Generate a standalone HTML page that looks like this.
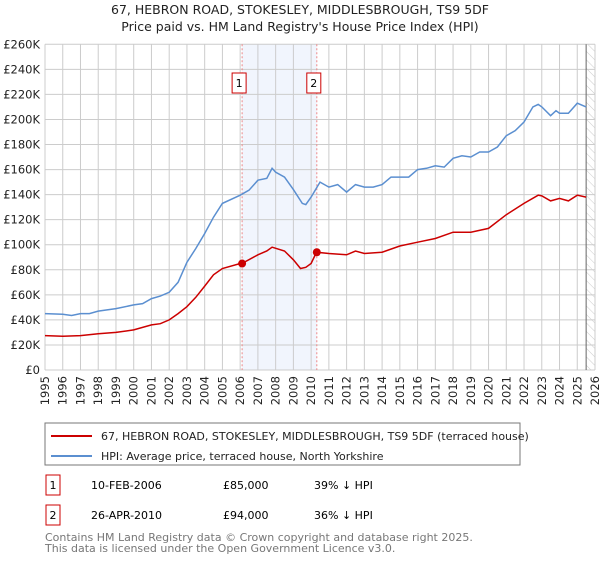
<!DOCTYPE html>
<html><head><meta charset="utf-8"><style>
body{margin:0;background:#fff;font-family:"DejaVu Sans","Liberation Sans",sans-serif;}
svg text{font-family:"DejaVu Sans","Liberation Sans",sans-serif;}
</style></head><body>
<svg id="c" width="600" height="560" xmlns="http://www.w3.org/2000/svg">
<defs><pattern id="hatch" width="6" height="6" patternUnits="userSpaceOnUse" patternTransform="rotate(-45)"><line x1="0" y1="0" x2="0" y2="6" stroke="#ccc" stroke-width="1"/></pattern></defs>
<text x="300" y="14" text-anchor="middle" font-size="12.5" fill="#222">67, HEBRON ROAD, STOKESLEY, MIDDLESBROUGH, TS9 5DF</text>
<text x="300" y="31" text-anchor="middle" font-size="12.5" fill="#222">Price paid vs. HM Land Registry's House Price Index (HPI)</text>
<g id="grid"></g><g id="series"></g>
<rect x="45" y="423" width="475" height="42" fill="#fff" stroke="#777"/>
<line x1="51" y1="436" x2="92" y2="436" stroke="#cc0000" stroke-width="2"/>
<text x="101" y="440" font-size="11" fill="#222">67, HEBRON ROAD, STOKESLEY, MIDDLESBROUGH, TS9 5DF (terraced house)</text>
<line x1="51" y1="456" x2="92" y2="456" stroke="#5b8fd0" stroke-width="2"/>
<text x="101" y="460" font-size="11" fill="#222">HPI: Average price, terraced house, North Yorkshire</text>
<g>
<rect x="46" y="475" width="14" height="20" fill="#fff" stroke="#cc0000"/><text x="53" y="489" text-anchor="middle" font-size="11">1</text>
<text x="91" y="489" font-size="11">10-FEB-2006</text><text x="223" y="489" font-size="11">£85,000</text><text x="314" y="489" font-size="11">39% ↓ HPI</text></g>
<g>
<rect x="46" y="505" width="14" height="20" fill="#fff" stroke="#cc0000"/><text x="53" y="519" text-anchor="middle" font-size="11">2</text>
<text x="91" y="519" font-size="11">26-APR-2010</text><text x="223" y="519" font-size="11">£94,000</text><text x="314" y="519" font-size="11">36% ↓ HPI</text></g>
<text x="45" y="541" font-size="11" fill="#777">Contains HM Land Registry data © Crown copyright and database right 2025.</text>
<text x="45" y="552" font-size="11" fill="#777">This data is licensed under the Open Government Licence v3.0.</text>
</svg>
<script>
const yTicks=[0,20000,40000,60000,80000,100000,120000,140000,160000,180000,200000,220000,240000,260000];
const yTickLabels=["£0","£20K","£40K","£60K","£80K","£100K","£120K","£140K","£160K","£180K","£200K","£220K","£240K","£260K"];
const years=[1995,1996,1997,1998,1999,2000,2001,2002,2003,2004,2005,2006,2007,2008,2009,2010,2011,2012,2013,2014,2015,2016,2017,2018,2019,2020,2021,2022,2023,2024,2025,2026];
const hpiT=[1995,1996,1996.5,1997,1997.5,1998,1999,2000,2000.5,2001,2001.5,2002,2002.5,2003,2003.5,2004,2004.5,2005,2006,2006.5,2007,2007.5,2007.8,2008,2008.5,2009,2009.5,2009.7,2010,2010.5,2011,2011.5,2012,2012.5,2013,2013.5,2014,2014.5,2015,2015.5,2016,2016.5,2017,2017.5,2018,2018.5,2019,2019.5,2020,2020.5,2021,2021.5,2022,2022.5,2022.8,2023,2023.5,2023.8,2024,2024.5,2025,2025.5];
const hpiV=[45000,44500,43500,45000,45000,47000,49000,52000,53000,57000,59000,62000,70000,86000,97000,109000,122000,133000,139500,143500,151500,153000,161000,158000,154000,144000,133000,132000,138000,150000,146000,148000,142000,148000,146000,146000,148000,154000,154000,154000,160000,161000,163000,162000,169000,171000,170000,174000,174000,178000,187000,191000,198000,210000,212000,210000,203000,207000,205000,205000,213000,210000];
const redT=[1995,1996,1997,1998,1999,2000,2001,2001.5,2002,2002.5,2003,2003.5,2004,2004.5,2005,2006,2006.1,2007,2007.5,2007.8,2008.5,2009,2009.4,2009.7,2010,2010.3,2011,2012,2012.5,2013,2014,2015,2016,2017,2018,2019,2020,2021,2022,2022.8,2023,2023.5,2024,2024.5,2025,2025.5];
const redV=[27500,27000,27500,29000,30000,32000,36000,37000,40000,45000,50500,58000,67000,76000,81000,85000,85000,92000,95000,98000,95000,88000,81000,82000,85000,94000,93000,92000,95000,93000,94000,99000,102000,105000,110000,110000,113000,124000,133000,139500,139000,135000,137000,135000,139500,138000];
const sales=[[2006.11,85000,"1"],[2010.32,94000,"2"]];
const X0=45,X1=595,Y0=370,Y1=44.3;
const xs=t=>X0+(t-1995)/(2026-1995)*(X1-X0);
const ys=v=>Y0-v/260000*(Y0-Y1);
const NS="http://www.w3.org/2000/svg";
function mk(tag,attrs,parent){const e=document.createElementNS(NS,tag);for(const k in attrs)e.setAttribute(k,attrs[k]);parent.appendChild(e);return e;}
const g=document.getElementById('grid'),s=document.getElementById('series');
let band=mk('rect',{x:xs(sales[0][0]),y:Y1,width:xs(sales[1][0])-xs(sales[0][0]),height:Y0-Y1,fill:'#eef3fc',opacity:0.8},g);


let h=mk('rect',{x:xs(2025.5),y:Y1,width:X1-xs(2025.5),height:Y0-Y1,fill:'url(#hatch)'},g);


years.forEach(y=>{const l=mk('line',{x1:xs(y),x2:xs(y),y1:Y1,y2:Y0,stroke:'#ccc'},g);


const t=mk('text',{x:0,y:0,'font-size':11.5,fill:'#222','text-anchor':'end',transform:`translate(${xs(y)+4},${Y0+6}) rotate(-90)`},g);t.textContent=y;

});
yTicks.forEach((v,i)=>{const l=mk('line',{x1:X0,x2:X1,y1:ys(v),y2:ys(v),stroke:'#ccc'},g);


const t=mk('text',{x:40,y:ys(v)+4,'font-size':11.5,fill:'#222','text-anchor':'end'},g);t.textContent=yTickLabels[i];

});
let nl=mk('line',{x1:xs(2025.5),x2:xs(2025.5),y1:Y1,y2:Y0,stroke:'#666'},g);


sales.forEach(d=>{const l=mk('line',{x1:xs(d[0]),x2:xs(d[0]),y1:Y1,y2:Y0,stroke:'#e88','stroke-dasharray':'2,2'},g);


const r=mk('rect',{x:xs(d[0])-10,y:73,width:14,height:20,fill:'#fff',stroke:'#cc0000'},g);


const t=mk('text',{x:xs(d[0])-3,y:87,'font-size':11,'text-anchor':'middle'},g);t.textContent=d[2];

});
const pts=(T,V)=>T.map((t,i)=>xs(t).toFixed(1)+','+ys(V[i]).toFixed(1)).join(' ');
let hp=mk('polyline',{points:pts(hpiT,hpiV),fill:'none',stroke:'#5b8fd0','stroke-width':1.5},s);


let rp=mk('polyline',{points:pts(redT,redV),fill:'none',stroke:'#cc0000','stroke-width':1.5},s);


sales.forEach(d=>{const c=mk('circle',{cx:xs(d[0]),cy:ys(d[1]),r:4,fill:'#cc0000'},s);

});
</script>
</body></html>
